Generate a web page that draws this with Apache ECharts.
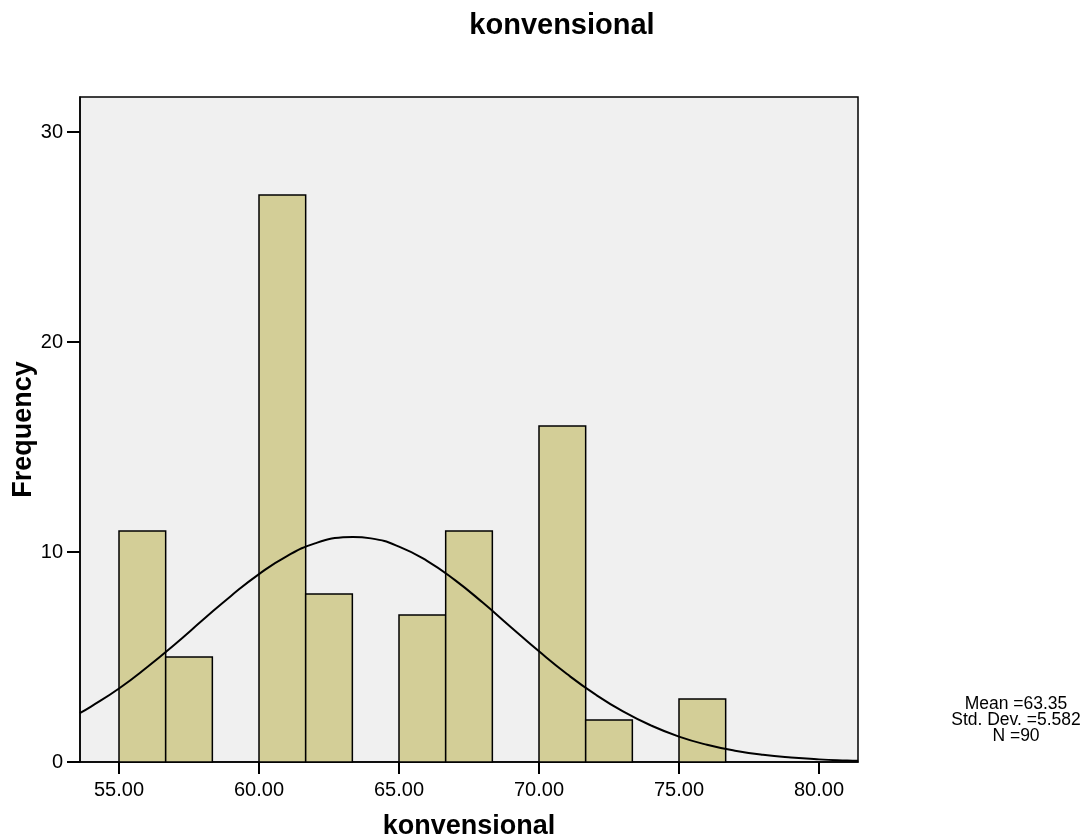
<!DOCTYPE html>
<html>
<head>
<meta charset="utf-8">
<script src="https://cdn.jsdelivr.net/npm/echarts@6/dist/echarts.min.js"></script>
<style>
  html, body { margin: 0; padding: 0; background: #fff; }
  #chart { width: 1086px; height: 839px; }
</style>
</head>
<body>
<div id="chart"></div>
<script>
// histogram bins (width 5/3), left edges and counts
var binWidth = 5 / 3;
var binStart = [55, 56.667, 60, 61.667, 65, 66.667, 70, 71.667, 75];
var counts = [11, 5, 27, 8, 7, 11, 16, 2, 3];

// normal curve
var curveX = [53.6, 54, 55, 56, 57, 58, 59, 60, 61, 62, 63, 63.35, 64, 65, 66, 67, 68, 69, 70, 71, 72, 73, 74, 75, 76, 77, 78, 79, 80, 81, 81.4];
var curveY = [2.33, 2.64, 3.50, 4.51, 5.61, 6.77, 7.91, 8.95, 9.81, 10.41, 10.70, 10.72, 10.65, 10.26, 9.58, 8.66, 7.58, 6.42, 5.27, 4.19, 3.23, 2.41, 1.74, 1.21, 0.82, 0.54, 0.34, 0.21, 0.125, 0.072, 0.057];

var xTicks = [55, 60, 65, 70, 75, 80];
var yTicks = [0, 10, 20, 30];
var stats = ['Mean =63.35', 'Std. Dev. =5.582', 'N =90'];

var chart = echarts.init(document.getElementById('chart'));

var barData = binStart.map(function (s, i) { return [s, s + binWidth, counts[i]]; });
var lineData = curveX.map(function (x, i) { return [x, curveY[i]]; });

var font = 'Liberation Sans, Arial, sans-serif';

chart.setOption({
  animation: false,
  title: {
    text: 'konvensional',
    left: 557, top: 6, textAlign: 'center',
    textStyle: { fontFamily: font, fontSize: 29, fontWeight: 'bold', color: '#000' }
  },
  grid: {
    left: 80, right: 228, top: 97, bottom: 77,
    containLabel: false, outerBoundsMode: 'none',
    show: true, backgroundColor: '#f0f0f0', borderColor: '#000', borderWidth: 1.5
  },
  xAxis: {
    type: 'value', min: 53.607, max: 81.393,
    name: 'konvensional', nameLocation: 'middle', nameGap: 51, nameMoveOverlap: false,
    nameTextStyle: { fontFamily: font, fontSize: 27, fontWeight: 'bold', color: '#000' },
    axisLine: { show: true, onZero: false, lineStyle: { color: '#000', width: 1.5 } },
    axisTick: { show: true, inside: false, length: 12, lineStyle: { color: '#000', width: 2 }, customValues: xTicks },
    axisLabel: {
      customValues: xTicks, margin: 18, color: '#000', fontFamily: font, fontSize: 20,
      formatter: function (v) { return v.toFixed(2); }
    },
    splitLine: { show: false }
  },
  yAxis: {
    type: 'value', min: 0, max: 31.67, interval: 10,
    name: 'Frequency', nameLocation: 'middle', nameGap: 43, nameRotate: 90, nameMoveOverlap: false,
    nameTextStyle: { fontFamily: font, fontSize: 27, fontWeight: 'bold', color: '#000' },
    axisLine: { show: true, lineStyle: { color: '#000', width: 1.5 } },
    axisTick: { show: true, inside: false, length: 13, lineStyle: { color: '#000', width: 2 }, customValues: yTicks },
    axisLabel: { customValues: yTicks, margin: 17, color: '#000', fontFamily: font, fontSize: 20 },
    splitLine: { show: false }
  },
  series: [
    {
      type: 'custom',
      data: barData,
      renderItem: function (params, api) {
        var p0 = api.coord([api.value(0), api.value(2)]);
        var p1 = api.coord([api.value(1), 0]);
        return {
          type: 'rect',
          shape: { x: p0[0], y: p0[1], width: p1[0] - p0[0], height: p1[1] - p0[1] },
          style: { fill: '#d3ce97', stroke: '#000', lineWidth: 1.5 }
        };
      },
      z: 2
    },
    {
      type: 'line',
      data: lineData,
      smooth: true,
      showSymbol: false,
      symbol: 'none',
      lineStyle: { color: '#000', width: 2 },
      z: 3
    }
  ],
  graphic: stats.map(function (t, i) {
    return {
      type: 'text', x: 1016, y: 695 + i * 16,
      style: { text: t, font: '17.5px ' + font, fill: '#000', textAlign: 'center' }
    };
  })
});
</script>
</body>
</html>
